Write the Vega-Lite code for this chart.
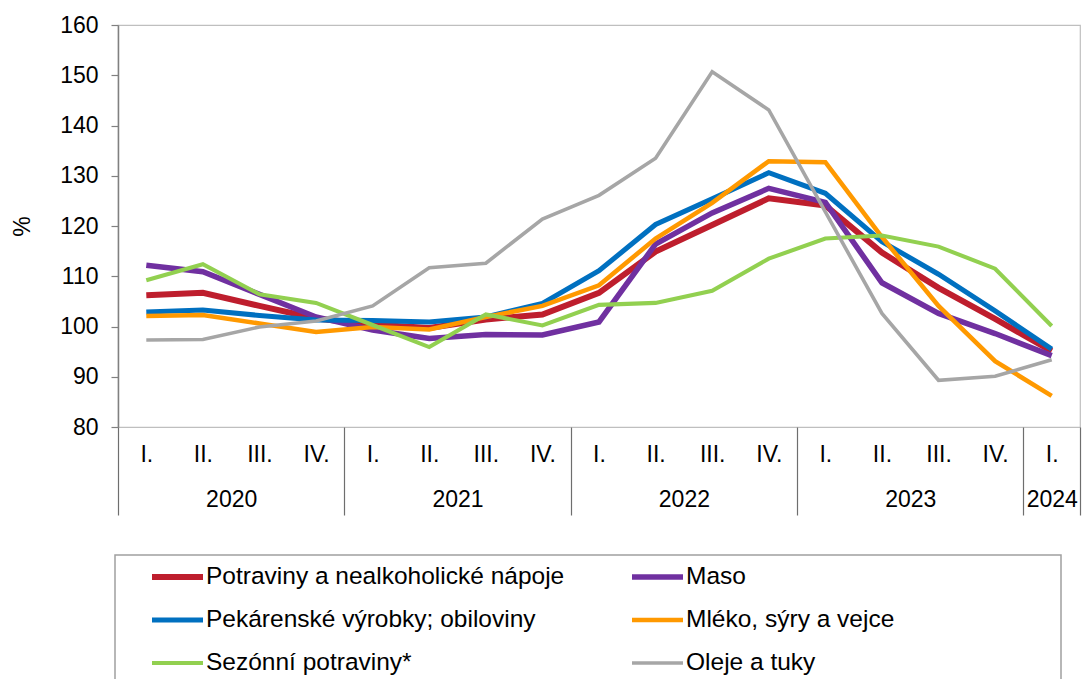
{
  "$schema": "https://vega.github.io/schema/vega-lite/v6.json",
  "width": 962,
  "height": 402,
  "autosize": {"type": "none"},
  "padding": {"left": 118, "top": 25, "right": 2, "bottom": 252},
  "background": "#FFFFFF",
  "config": {
    "font": "Liberation Sans",
    "view": {"stroke": "#BFBFBF", "strokeWidth": 1.2},
    "axis": {"labelFont": "Liberation Sans", "labelFontSize": 23, "labelColor": "#000000", "titleFont": "Liberation Sans", "titleFontSize": 23, "titleFontWeight": "normal", "titleColor": "#000000"}
  },
  "layer": [
    {
      "mark": {"type": "rule", "color": "#7A7A7A", "strokeWidth": 1.6},
      "encoding": {
        "x": {
          "datum": 0.5, "type": "quantitative",
          "scale": {"domain": [0.5, 17.5], "nice": false, "zero": false},
          "axis": {
            "orient": "bottom",
            "values": [0.5, 2.5, 4.5, 6.5, 8.5, 10.5, 12.5, 14.5, 16.5, 17, 17.5],
            "labelExpr": "datum.value == 17 ? '2024' : (datum.value % 4 == 2.5 ? '' + (2020 + floor(datum.value / 4)) : '')",
            "ticks": true, "tickSize": 88, "tickColor": "#6E6E6E", "tickWidth": 1.2,
            "tickOpacity": {"condition": {"test": "datum.value % 4 == 0.5 || datum.value == 17.5", "value": 1}, "value": 0},
            "labelPadding": -27, "domain": false, "grid": false, "title": null,
            "labelFlush": false, "labelOverlap": false, "labelBound": false
          }
        },
        "x2": {"datum": 17.5},
        "y": {"datum": 100, "type": "quantitative"}
      }
    },
    {
      "data": {"values": [
        {"s": "Potraviny a nealkoholické nápoje", "t": 1, "v": 106.2},
        {"s": "Potraviny a nealkoholické nápoje", "t": 2, "v": 106.7},
        {"s": "Potraviny a nealkoholické nápoje", "t": 3, "v": 104.1},
        {"s": "Potraviny a nealkoholické nápoje", "t": 4, "v": 101.6},
        {"s": "Potraviny a nealkoholické nápoje", "t": 5, "v": 100.4},
        {"s": "Potraviny a nealkoholické nápoje", "t": 6, "v": 99.7},
        {"s": "Potraviny a nealkoholické nápoje", "t": 7, "v": 101.4},
        {"s": "Potraviny a nealkoholické nápoje", "t": 8, "v": 102.4},
        {"s": "Potraviny a nealkoholické nápoje", "t": 9, "v": 106.7},
        {"s": "Potraviny a nealkoholické nápoje", "t": 10, "v": 114.9},
        {"s": "Potraviny a nealkoholické nápoje", "t": 11, "v": 120.2},
        {"s": "Potraviny a nealkoholické nápoje", "t": 12, "v": 125.5},
        {"s": "Potraviny a nealkoholické nápoje", "t": 13, "v": 124.1},
        {"s": "Potraviny a nealkoholické nápoje", "t": 14, "v": 114.7},
        {"s": "Potraviny a nealkoholické nápoje", "t": 15, "v": 107.7},
        {"s": "Potraviny a nealkoholické nápoje", "t": 16, "v": 101.5},
        {"s": "Potraviny a nealkoholické nápoje", "t": 17, "v": 95.1},
        {"s": "Maso", "t": 1, "v": 112.2},
        {"s": "Maso", "t": 2, "v": 110.9},
        {"s": "Maso", "t": 3, "v": 106.4},
        {"s": "Maso", "t": 4, "v": 101.9},
        {"s": "Maso", "t": 5, "v": 99.3},
        {"s": "Maso", "t": 6, "v": 97.6},
        {"s": "Maso", "t": 7, "v": 98.4},
        {"s": "Maso", "t": 8, "v": 98.3},
        {"s": "Maso", "t": 9, "v": 100.9},
        {"s": "Maso", "t": 10, "v": 116.4},
        {"s": "Maso", "t": 11, "v": 122.6},
        {"s": "Maso", "t": 12, "v": 127.5},
        {"s": "Maso", "t": 13, "v": 124.7},
        {"s": "Maso", "t": 14, "v": 108.7},
        {"s": "Maso", "t": 15, "v": 102.6},
        {"s": "Maso", "t": 16, "v": 98.6},
        {"s": "Maso", "t": 17, "v": 94.2},
        {"s": "Pekárenské výrobky; obiloviny", "t": 1, "v": 102.9},
        {"s": "Pekárenské výrobky; obiloviny", "t": 2, "v": 103.3},
        {"s": "Pekárenské výrobky; obiloviny", "t": 3, "v": 102.2},
        {"s": "Pekárenské výrobky; obiloviny", "t": 4, "v": 101.3},
        {"s": "Pekárenské výrobky; obiloviny", "t": 5, "v": 101.2},
        {"s": "Pekárenské výrobky; obiloviny", "t": 6, "v": 100.9},
        {"s": "Pekárenské výrobky; obiloviny", "t": 7, "v": 101.9},
        {"s": "Pekárenské výrobky; obiloviny", "t": 8, "v": 104.6},
        {"s": "Pekárenské výrobky; obiloviny", "t": 9, "v": 111.1},
        {"s": "Pekárenské výrobky; obiloviny", "t": 10, "v": 120.3},
        {"s": "Pekárenské výrobky; obiloviny", "t": 11, "v": 125.4},
        {"s": "Pekárenské výrobky; obiloviny", "t": 12, "v": 130.6},
        {"s": "Pekárenské výrobky; obiloviny", "t": 13, "v": 126.5},
        {"s": "Pekárenské výrobky; obiloviny", "t": 14, "v": 116.9},
        {"s": "Pekárenské výrobky; obiloviny", "t": 15, "v": 110.4},
        {"s": "Pekárenské výrobky; obiloviny", "t": 16, "v": 103.1},
        {"s": "Pekárenské výrobky; obiloviny", "t": 17, "v": 95.5},
        {"s": "Mléko, sýry a vejce", "t": 1, "v": 102.1},
        {"s": "Mléko, sýry a vejce", "t": 2, "v": 102.3},
        {"s": "Mléko, sýry a vejce", "t": 3, "v": 100.6},
        {"s": "Mléko, sýry a vejce", "t": 4, "v": 98.9},
        {"s": "Mléko, sýry a vejce", "t": 5, "v": 99.9},
        {"s": "Mléko, sýry a vejce", "t": 6, "v": 99.4},
        {"s": "Mléko, sýry a vejce", "t": 7, "v": 101.9},
        {"s": "Mléko, sýry a vejce", "t": 8, "v": 104.1},
        {"s": "Mléko, sýry a vejce", "t": 9, "v": 108.2},
        {"s": "Mléko, sýry a vejce", "t": 10, "v": 117.5},
        {"s": "Mléko, sýry a vejce", "t": 11, "v": 124.6},
        {"s": "Mléko, sýry a vejce", "t": 12, "v": 132.9},
        {"s": "Mléko, sýry a vejce", "t": 13, "v": 132.7},
        {"s": "Mléko, sýry a vejce", "t": 14, "v": 117.8},
        {"s": "Mléko, sýry a vejce", "t": 15, "v": 104.1},
        {"s": "Mléko, sýry a vejce", "t": 16, "v": 93.1},
        {"s": "Mléko, sýry a vejce", "t": 17, "v": 86.2},
        {"s": "Sezónní potraviny*", "t": 1, "v": 109.2},
        {"s": "Sezónní potraviny*", "t": 2, "v": 112.4},
        {"s": "Sezónní potraviny*", "t": 3, "v": 106.4},
        {"s": "Sezónní potraviny*", "t": 4, "v": 104.7},
        {"s": "Sezónní potraviny*", "t": 5, "v": 100.3},
        {"s": "Sezónní potraviny*", "t": 6, "v": 95.9},
        {"s": "Sezónní potraviny*", "t": 7, "v": 102.4},
        {"s": "Sezónní potraviny*", "t": 8, "v": 100.2},
        {"s": "Sezónní potraviny*", "t": 9, "v": 104.3},
        {"s": "Sezónní potraviny*", "t": 10, "v": 104.7},
        {"s": "Sezónní potraviny*", "t": 11, "v": 107.1},
        {"s": "Sezónní potraviny*", "t": 12, "v": 113.5},
        {"s": "Sezónní potraviny*", "t": 13, "v": 117.5},
        {"s": "Sezónní potraviny*", "t": 14, "v": 118.1},
        {"s": "Sezónní potraviny*", "t": 15, "v": 115.9},
        {"s": "Sezónní potraviny*", "t": 16, "v": 111.5},
        {"s": "Sezónní potraviny*", "t": 17, "v": 100.1},
        {"s": "Oleje a tuky", "t": 1, "v": 97.3},
        {"s": "Oleje a tuky", "t": 2, "v": 97.4},
        {"s": "Oleje a tuky", "t": 3, "v": 99.9},
        {"s": "Oleje a tuky", "t": 4, "v": 101.1},
        {"s": "Oleje a tuky", "t": 5, "v": 104.1},
        {"s": "Oleje a tuky", "t": 6, "v": 111.7},
        {"s": "Oleje a tuky", "t": 7, "v": 112.6},
        {"s": "Oleje a tuky", "t": 8, "v": 121.4},
        {"s": "Oleje a tuky", "t": 9, "v": 126.1},
        {"s": "Oleje a tuky", "t": 10, "v": 133.5},
        {"s": "Oleje a tuky", "t": 11, "v": 150.7},
        {"s": "Oleje a tuky", "t": 12, "v": 143.1},
        {"s": "Oleje a tuky", "t": 13, "v": 122.8},
        {"s": "Oleje a tuky", "t": 14, "v": 102.6},
        {"s": "Oleje a tuky", "t": 15, "v": 89.3},
        {"s": "Oleje a tuky", "t": 16, "v": 90.1},
        {"s": "Oleje a tuky", "t": 17, "v": 93.4}
      ]},
      "mark": {"type": "line", "strokeJoin": "miter", "strokeCap": "butt"},
      "encoding": {
        "x": {
          "field": "t", "type": "quantitative",
          "scale": {"domain": [0.5, 17.5], "nice": false, "zero": false},
          "axis": {
            "orient": "bottom",
            "values": [1, 2, 3, 4, 5, 6, 7, 8, 9, 10, 11, 12, 13, 14, 15, 16, 17],
            "labelExpr": "['I.', 'II.', 'III.', 'IV.'][(datum.value - 1) % 4]",
            "ticks": false, "domain": false, "grid": false, "labelPadding": 16, "title": null,
            "labelFlush": false, "labelOverlap": false, "labelBound": false
          }
        },
        "y": {
          "field": "v", "type": "quantitative",
          "scale": {"domain": [80, 160], "nice": false, "zero": false},
          "axis": {
            "title": "%",
            "values": [80, 90, 100, 110, 120, 130, 140, 150, 160],
            "tickSize": 7, "tickColor": "#808080", "tickWidth": 1.2,
            "domainColor": "#808080", "domainWidth": 1.5,
            "labelPadding": 13, "titlePadding": 25,
            "gridColor": "#C8C8C8", "gridWidth": 1.2,
            "gridDash": {"condition": {"test": "datum.value == 160", "value": []}, "value": [2, 3]}
          }
        },
        "color": {
          "field": "s", "type": "nominal",
          "scale": {
            "domain": ["Potraviny a nealkoholické nápoje", "Maso", "Pekárenské výrobky; obiloviny", "Mléko, sýry a vejce", "Sezónní potraviny*", "Oleje a tuky"],
            "range": ["#BE1E2D", "#7030A0", "#0070C0", "#FF9900", "#92D050", "#A6A6A6"]
          },
          "legend": {
            "orient": "none", "legendX": -3, "legendY": 530, "columns": 2, "direction": "horizontal", "title": null,
            "symbolType": "stroke", "symbolSize": 2601, "symbolStrokeWidth": 4,
            "labelFontSize": 24.5, "labelColor": "#000000", "labelFont": "Liberation Sans", "labelLimit": 900,
            "strokeColor": "#A0A0A0", "fillColor": "#FFFFFF", "padding": 4,
            "columnPadding": 34, "rowPadding": 7, "clipHeight": 36, "symbolOffset": 30, "labelOffset": 0,
            "labelExpr": "datum.value === 'Mléko, sýry a vejce' ? datum.label + '\u2800\u2800\u2800\u2800\u2800\u2800\u2800\u2800\u2800' : datum.label",
            "encode": {
              "legend": {"update": {"strokeWidth": {"value": 1.5}}},
              "symbols": {"update": {"strokeWidth": {"signal": "datum.value === 'Potraviny a nealkoholické nápoje' ? 6 : 4"}}}
            }
          }
        },
        "strokeWidth": {
          "field": "s", "type": "ordinal",
          "scale": {
            "domain": ["Potraviny a nealkoholické nápoje", "Maso", "Pekárenské výrobky; obiloviny", "Mléko, sýry a vejce", "Sezónní potraviny*", "Oleje a tuky"],
            "range": [6, 3.6, 3.6, 3.6, 3.6, 3.6]
          },
          "legend": null
        }
      }
    }
  ],
  "resolve": {"scale": {"x": "independent"}}
}
